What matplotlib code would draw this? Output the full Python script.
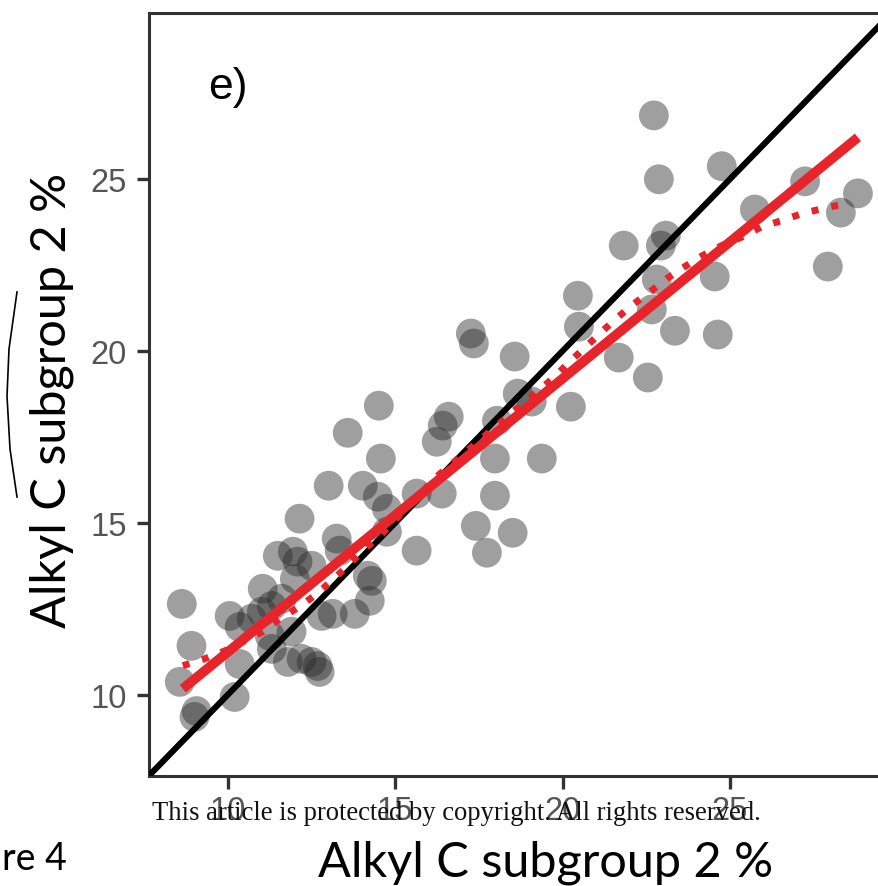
import matplotlib
matplotlib.use("Agg")
import matplotlib.pyplot as plt
from matplotlib.lines import Line2D

# ---- data ----
obs_x = [22.73, 22.88, 24.76, 27.25, 28.83, 28.32, 25.75, 21.83, 23.09, 22.94,
         27.93, 22.82, 24.55, 20.46, 22.67, 23.36, 24.64, 20.49, 21.68, 22.55,
         17.26, 17.35, 18.57, 20.25, 18.66, 19.08, 18.04, 16.60, 16.42, 16.24,
         17.98, 19.38, 17.98, 17.41, 18.51, 17.74, 15.64, 16.39, 14.51, 13.58,
         14.57, 13.01, 14.03, 14.48, 14.75, 14.75, 12.14, 13.25, 13.34, 15.64,
         14.18, 14.30, 14.24, 13.13, 13.79, 11.49, 11.94, 12.08, 12.50, 11.04,
         12.00, 11.61, 8.62, 10.05, 10.35, 10.71, 11.01, 11.31, 12.80, 8.91,
         10.35, 11.31, 11.79, 12.20, 12.50, 12.68, 12.74, 8.56, 10.20, 9.00,
         9.06, 11.90, 11.25]
pred_y = [26.86, 25.00, 25.38, 24.94, 24.59, 24.03, 24.12, 23.07, 23.36, 23.07,
          22.46, 22.08, 22.17, 21.61, 21.21, 20.59, 20.48, 20.71, 19.81, 19.23,
          20.51, 20.22, 19.84, 18.38, 18.76, 18.53, 17.97, 18.09, 17.83, 17.36,
          16.87, 16.87, 15.79, 14.91, 14.71, 14.13, 15.85, 15.85, 18.41, 17.62,
          16.87, 16.08, 16.08, 15.76, 15.41, 14.74, 15.12, 14.54, 14.19, 14.19,
          13.46, 13.31, 12.73, 12.35, 12.35, 14.04, 14.16, 13.87, 13.75, 13.08,
          13.37, 12.79, 12.64, 12.29, 11.97, 12.21, 12.41, 12.58, 12.29, 11.42,
          10.89, 11.33, 10.95, 11.04, 10.95, 10.83, 10.66, 10.37, 9.93, 9.35,
          9.52, 11.83, 11.71]

lm_x = [8.65, 28.83]
lm_y = [10.17, 26.22]

loess_x = [8.65, 9.30, 9.90, 11.04, 11.55, 12.09, 12.59, 13.10, 13.58, 14.03,
           14.54, 16.27, 17.98, 19.71, 20.22, 20.67, 21.15, 21.60, 22.10, 22.61,
           23.12, 23.66, 24.19, 24.76, 25.39, 25.96, 26.56, 27.16, 27.79, 28.45]
loess_y = [10.84, 11.04, 11.27, 11.83, 12.20, 12.53, 12.88, 13.31, 13.75, 14.19,
           14.62, 16.37, 17.78, 19.20, 19.69, 20.10, 20.54, 20.94, 21.35, 21.72,
           22.11, 22.46, 22.78, 23.07, 23.33, 23.62, 23.80, 24.00, 24.15, 24.29]

xticks = [10, 15, 20, 25]
yticks = [10, 15, 20, 25]
panel_label = "e)"
axis_label = "Alkyl C subgroup 2 %"
notice = "This article is protected by copyright. All rights reserved."
fig_caption = "re 4"

# ---- figure ----
W, H = 879, 887
fig = plt.figure(figsize=(W / 100, H / 100), dpi=100)
fig.patch.set_facecolor("white")

def fx(px):
    return px / W

def fy(py):
    return 1 - py / H

ax = fig.add_axes([fx(149), fy(777), fx(879) - fx(149), fy(14) - fy(777)])
ax.set_xlim(7.64, 29.46)
ax.set_ylim(7.63, 29.84)

ax.scatter(obs_x, pred_y, s=460, color="#2b2b2b", alpha=0.45,
           edgecolors="none", zorder=2)
ax.axline((10, 10), slope=1, color="black", lw=4.4, zorder=3)
ax.plot(loess_x, loess_y, color="#e8242b", lw=5, linestyle=(0, (1, 1.9)),
        zorder=3)
ax.plot(lm_x, lm_y, color="#e8242b", lw=7, solid_capstyle="butt", zorder=4)

for side in ["left", "bottom", "top"]:
    ax.spines[side].set_color("#333333")
    ax.spines[side].set_linewidth(2.2)
ax.spines["right"].set_visible(False)

ax.set_xticks(xticks)
ax.set_yticks(yticks)
ax.tick_params(axis="both", length=9, width=2.4, color="#333333",
               labelcolor="#555555", labelsize=23.5)
ax.tick_params(axis="y", pad=7)
ax.tick_params(axis="x", pad=5)
for lab in ax.get_xticklabels() + ax.get_yticklabels():
    lab.set_fontfamily("Liberation Sans")

fig.text(fx(228), fy(88), panel_label, ha="center", va="center",
         fontsize=32, family="Liberation Sans", color="black")

fig.text(fx(546), fy(877), axis_label, ha="center", va="baseline",
         fontsize=35, family="Lato", color="black")
fig.text(fx(74), fy(400), axis_label, ha="right", va="center",
         rotation=90, fontsize=35, family="Lato", color="black")
fig.text(fx(152), fy(820), notice, ha="left", va="baseline",
         fontsize=19.2, family="Liberation Serif", color="#111111")
fig.text(fx(2), fy(870), fig_caption, ha="left", va="baseline",
         fontsize=27, family="Lato", color="black")

fig.add_artist(Line2D([fx(17), fx(9), fx(7), fx(10), fx(17)],
                      [fy(293), fy(350), fy(397), fy(450), fy(498)],
                      transform=fig.transFigure, color="black", lw=1.2))

fig.savefig("out.png", dpi=100, facecolor="white")
